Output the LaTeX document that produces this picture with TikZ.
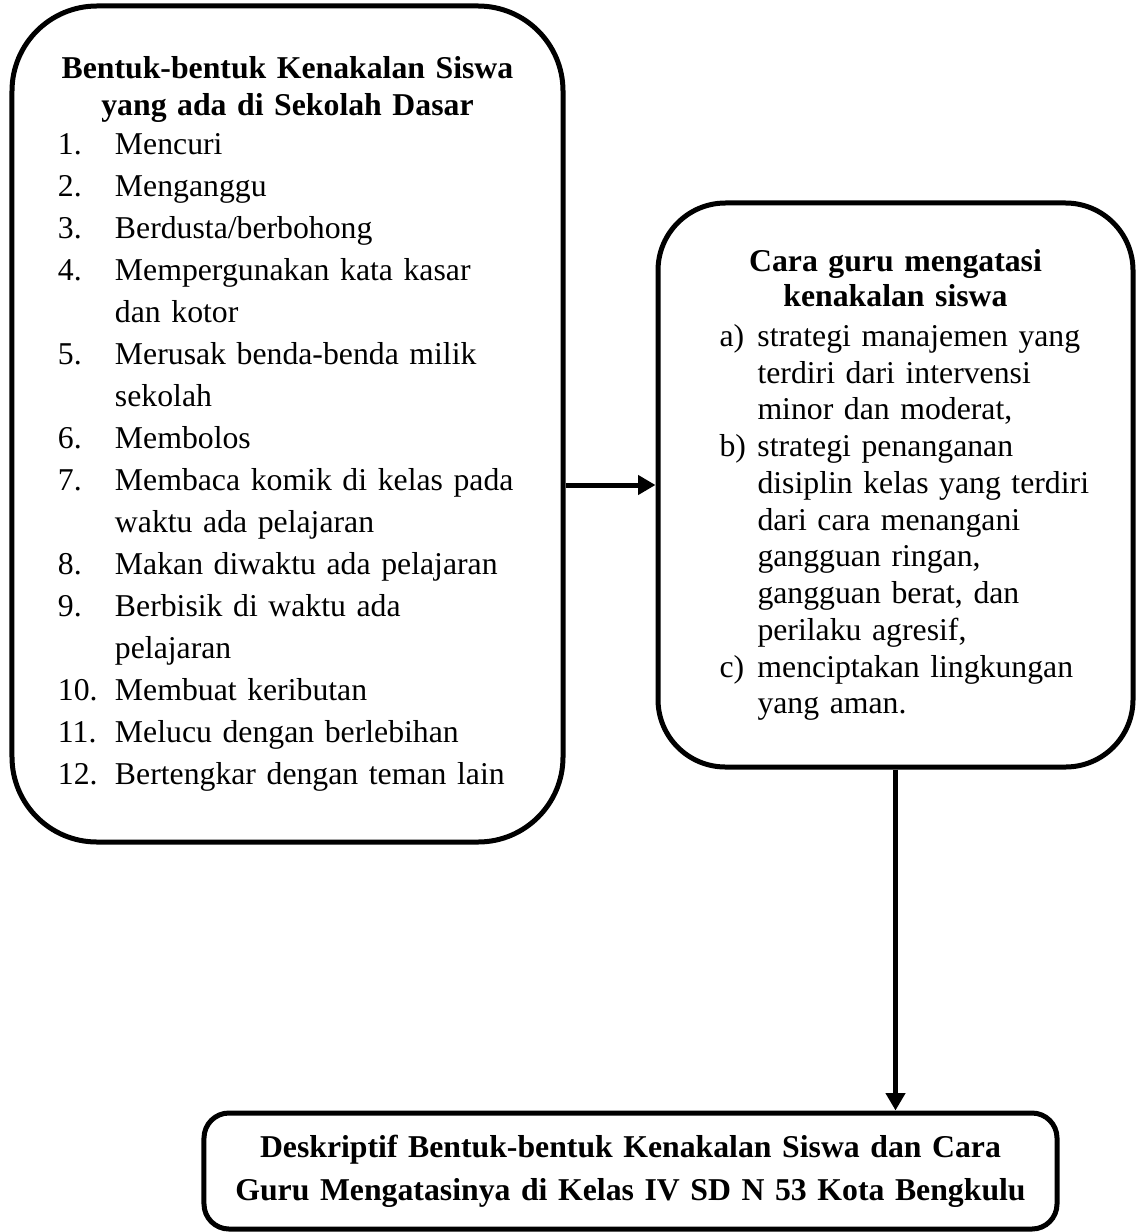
\documentclass[tikz,border=0pt]{standalone}
\usepackage{fontspec}
\setmainfont{Liberation Serif}
\usetikzlibrary{arrows.meta}
\newcommand{\butir}[3][22.8pt]{\par\noindent\hangindent=#1\hangafter=1\makebox[#1][l]{#2}#3}
\hfuzz=30pt
\begin{document}
\begin{tikzpicture}[x=0.4pt, y=-0.4pt,
    kotak/.style={draw, line width=2pt, align=left, font=\fontsize{12.7}{16.8}\selectfont},
    judul/.style={font=\bfseries\fontsize{12.7}{17.2}\selectfont, align=center},
    panah/.style={line width=2pt, -{Triangle[length=7pt, width=7.6pt]}}]
    \useasboundingbox (0,0) rectangle (1136,1232);
    \node[kotak, rounded corners=34pt, minimum width=220.4pt, minimum height=334.4pt, text width=183.6pt] (bentuk) at (287.5,424) {%
        {\bfseries\centering\fontsize{12.7}{14.6}\selectfont Bentuk-bentuk Kenakalan Siswa\\ yang ada di Sekolah Dasar\par}
        \vspace{-1.2pt}
        \rightskip=-20pt plus 1fil
        \butir{1.}{Mencuri}
        \butir{2.}{Menganggu}
        \butir{3.}{Berdusta/berbohong}
        \butir{4.}{Mempergunakan kata kasar\newline dan kotor}
        \butir{5.}{Merusak benda-benda milik\newline sekolah}
        \butir{6.}{Membolos}
        \butir{7.}{Membaca komik di kelas pada\newline waktu ada pelajaran}
        \butir{8.}{Makan diwaktu ada pelajaran}
        \butir{9.}{Berbisik di waktu ada\newline pelajaran}
        \butir{10.}{Membuat keributan}
        \butir{11.}{Melucu dengan berlebihan}
        \butir{12.}{Bertengkar dengan teman lain}\par
    };
    \node[kotak, rounded corners=27pt, minimum width=190pt, minimum height=225.6pt, text width=140.8pt] (cara) at (895.5,485) {%
        {\bfseries\centering\fontsize{12.7}{14}\selectfont Cara guru mengatasi\\ kenakalan siswa\par}
        \vspace{1.3pt}
        \fontsize{12.7}{14.7}\selectfont\rightskip=-20pt plus 1fil
        \butir[15.2pt]{a)}{strategi manajemen yang\newline terdiri dari intervensi\newline minor dan moderat,}
        \butir[15.2pt]{b)}{strategi penanganan\newline disiplin kelas yang terdiri\newline dari cara menangani\newline gangguan ringan,\newline gangguan berat, dan\newline perilaku agresif,}
        \butir[15.2pt]{c)}{menciptakan lingkungan\newline yang aman.}\par
    };
    \node[kotak, judul, rounded corners=10pt, minimum width=341.2pt, minimum height=46.4pt, text width=320pt] (deskriptif) at (630.5,1171) {Deskriptif Bentuk-bentuk Kenakalan Siswa dan Cara\\ Guru Mengatasinya di Kelas IV SD N 53 Kota Bengkulu};
    \draw[panah] (bentuk.east |- cara.west) -- (cara.west);
    \draw[panah] (cara.south) -- (cara.south |- deskriptif.north);
\end{tikzpicture}
\end{document}
